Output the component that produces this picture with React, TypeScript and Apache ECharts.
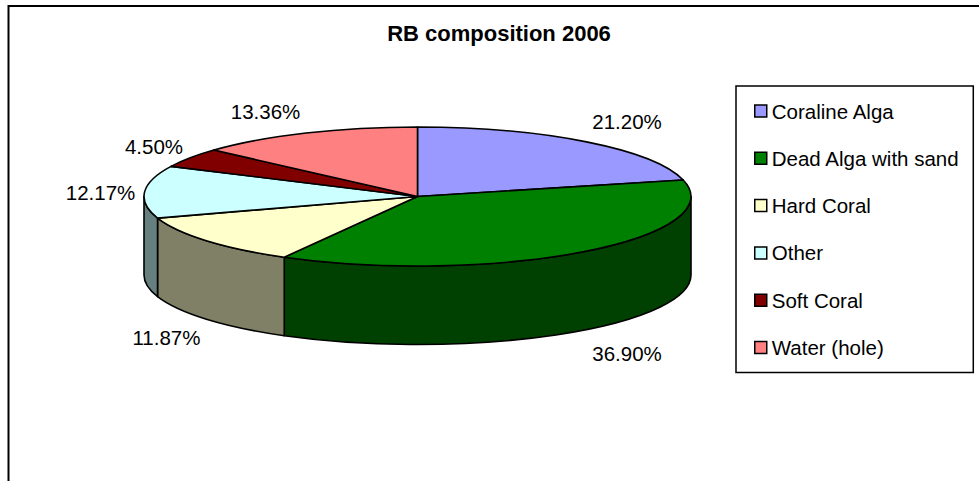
import React, { useEffect, useRef } from "react";
import * as echarts from "echarts";

const titleText = "RB composition 2006";
const categories = ["Coraline Alga", "Dead Alga with sand", "Hard Coral", "Other", "Soft Coral", "Water (hole)"];
const shares = [21.2, 36.9, 11.87, 12.17, 4.5, 13.36];
const topColors = ["#9999FF", "#008000", "#FFFFCC", "#CCFFFF", "#800000", "#FF8080"];
const sideColors = ["#4D4D80", "#004000", "#808066", "#668080", "#400000", "#804040"];
// Label centres, in pixels of the 979x481 picture.
const labelCentres = [
  [627, 121.5],
  [627, 353.5],
  [166.5, 337.5],
  [100.5, 192],
  [154, 146],
  [265.5, 111.5],
];

const FONT = '"Liberation Sans", Arial, sans-serif';
const CX = 417.5;
const CY = 196.5;
const RX = 273.5;
const RY = 69.5;
const DEPTH = 78.5;

const total = shares.reduce((a, b) => a + b, 0);

function point(deg: number, dy = 0): [number, number] {
  const r = (deg * Math.PI) / 180;
  return [CX + RX * Math.sin(r), CY - RY * Math.cos(r) + dy];
}

function makeRenderItem(index: number) {
  return (_params: any, api: any) => {
    const value = api.value(0);
    const before = shares.slice(0, index).reduce((a, b) => a + b, 0);
    const a0 = (before / total) * 360;
    const a1 = a0 + (value / total) * 360;
    const children: any[] = [];
    const s = Math.max(a0, 90);
    const e = Math.min(a1, 270);
    if (s < e) {
      const p0 = point(s);
      const p1 = point(e);
      const q1 = point(e, DEPTH);
      const q0 = point(s, DEPTH);
      children.push({
        type: "path",
        shape: {
          pathData: `M${p0[0]} ${p0[1]}A${RX} ${RY} 0 0 1 ${p1[0]} ${p1[1]}L${q1[0]} ${q1[1]}A${RX} ${RY} 0 0 0 ${q0[0]} ${q0[1]}Z`,
        },
        style: { fill: sideColors[index], stroke: "#000", lineWidth: 1.6, lineJoin: "round" },
      });
    }
    const t0 = point(a0);
    const t1 = point(a1);
    children.push({
      type: "path",
      shape: {
        pathData: `M${CX} ${CY}L${t0[0]} ${t0[1]}A${RX} ${RY} 0 0 1 ${t1[0]} ${t1[1]}Z`,
      },
      style: { fill: topColors[index], stroke: "#000", lineWidth: 1.6, lineJoin: "round" },
    });
    children.push({
      type: "text",
      style: {
        text: `${value.toFixed(2)}%`,
        x: labelCentres[index][0],
        y: labelCentres[index][1],
        fill: "#000",
        fontFamily: FONT,
        fontSize: 20.5,
        align: "center",
        verticalAlign: "middle",
      },
    });
    return { type: "group", children };
  };
}

export default function App() {
  const ref = useRef<HTMLDivElement>(null);
  useEffect(() => {
    const chart = echarts.init(ref.current!, undefined, { renderer: "svg" });
    chart.setOption({
      animation: false,
      backgroundColor: "#fff",
      title: {
        text: titleText,
        left: 494,
        top: 17,
        textAlign: "center",
        textStyle: { fontFamily: FONT, fontSize: 22, fontWeight: "bold", color: "#000" },
      },
      legend: {
        orient: "vertical",
        left: 736,
        top: 86,
        padding: [14.5, 13.5, 14.5, 18],
        itemWidth: 12,
        itemHeight: 12,
        itemGap: 26.3,
        selectedMode: false,
        borderColor: "#000",
        borderWidth: 1.5,
        backgroundColor: "#fff",
        textStyle: { fontFamily: FONT, fontSize: 20.5, color: "#000", padding: 0 },
        data: categories.map((name, i) => ({
          name,
          icon: "rect",
          itemStyle: { color: topColors[i], borderColor: "#000", borderWidth: 1.5 },
        })),
      },
      graphic: [
        {
          type: "polyline",
          silent: true,
          shape: {
            points: [
              [8.5, 481],
              [8.5, 6],
              [979, 6],
            ],
          },
          style: { stroke: "#000", lineWidth: 2, fill: "none" },
        },
      ],
      series: categories.map((name, i) => ({
        type: "custom",
        name,
        coordinateSystem: "none",
        silent: true,
        itemStyle: { color: topColors[i] },
        data: [[shares[i]]],
        renderItem: makeRenderItem(i),
      })),
    });
    return () => chart.dispose();
  }, []);
  return <div ref={ref} style={{ position: "absolute", left: 0, top: 0, width: 979, height: 481 }} />;
}
